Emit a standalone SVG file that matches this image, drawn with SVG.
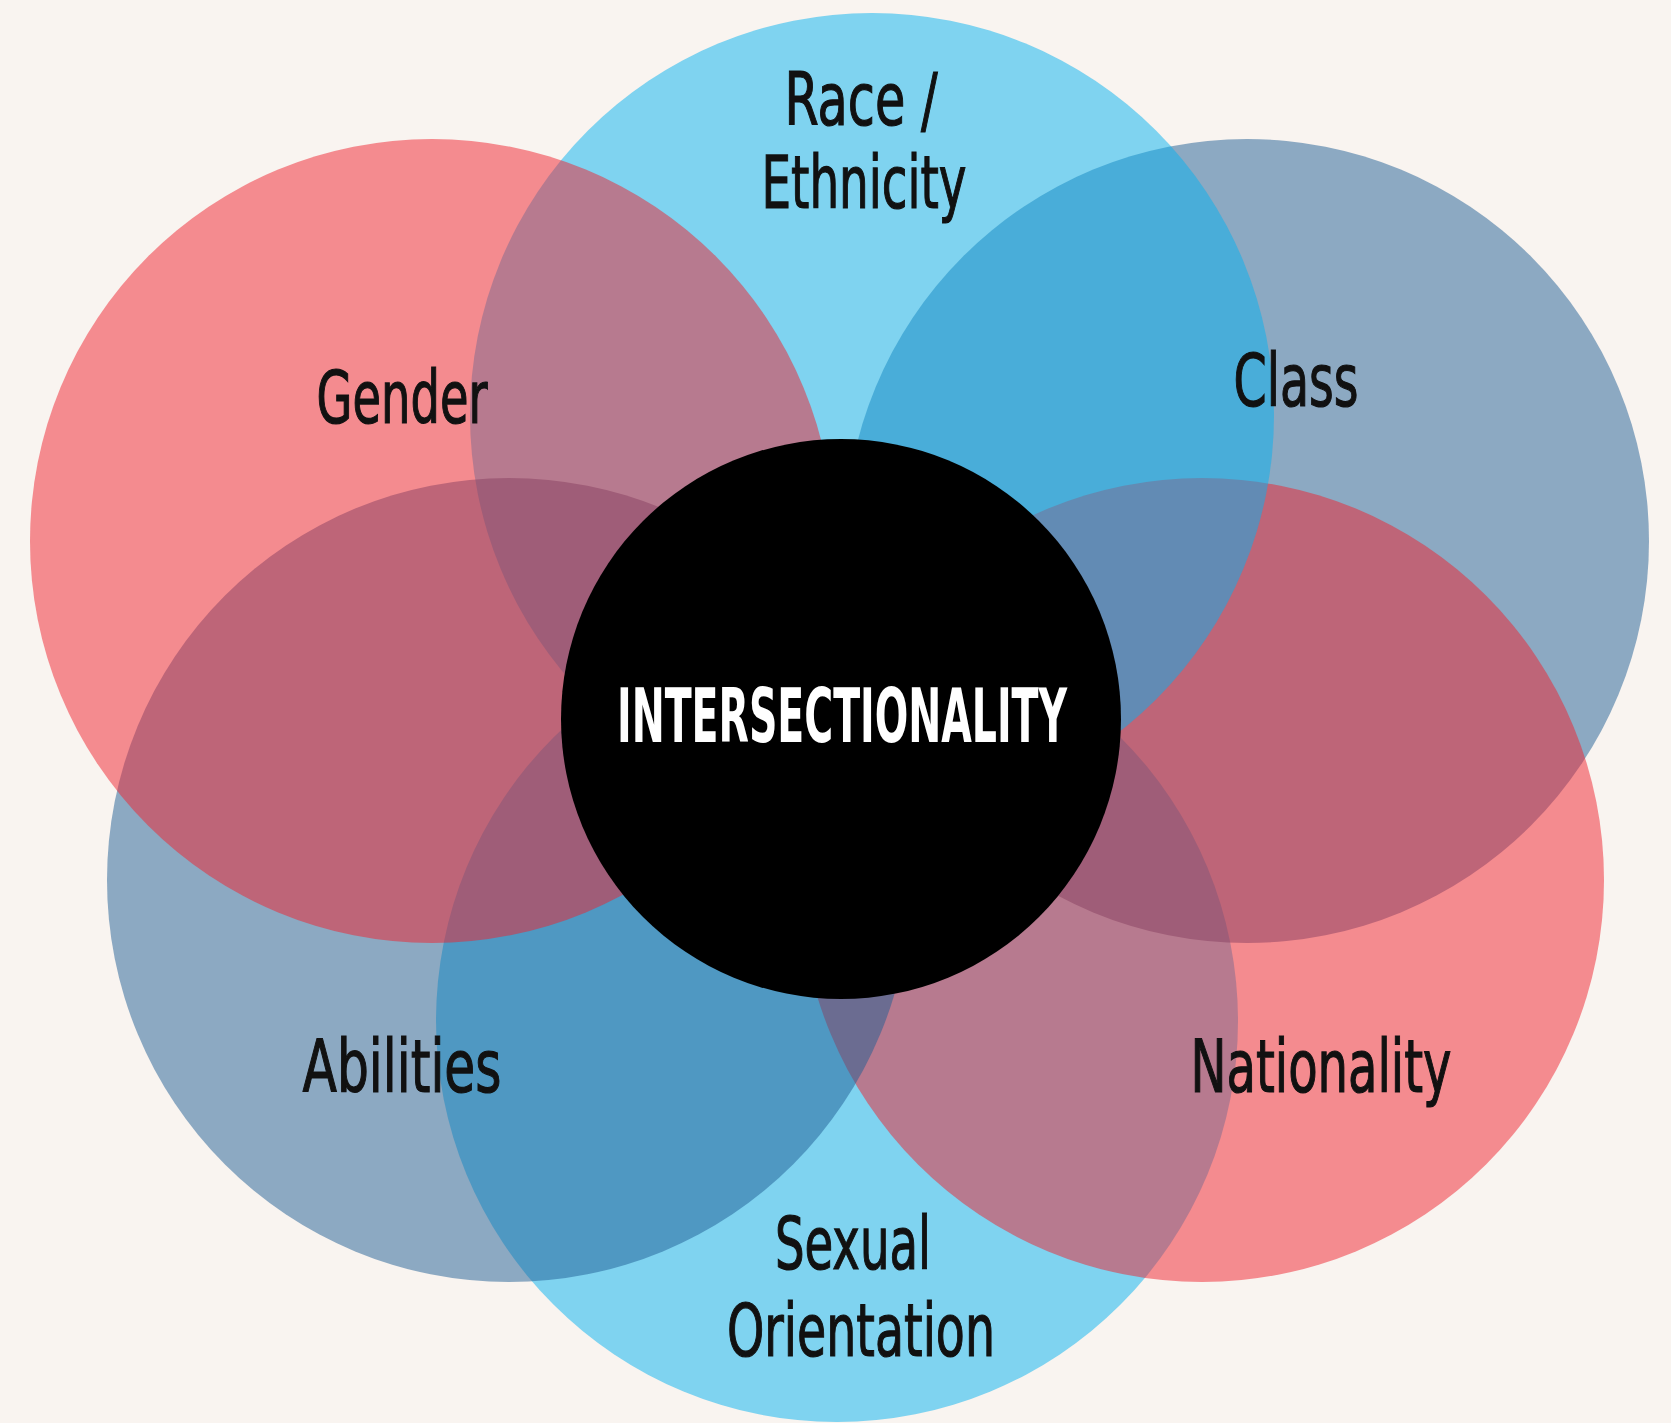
<svg xmlns="http://www.w3.org/2000/svg" width="1671" height="1423" viewBox="0 0 1671 1423">
<style>
.c{fill-opacity:0.5}
.pink{fill:#EF222E}
.blue{fill:#05B2F0}
.steel{fill:#1F5E94}
.lbl{font-family:"Liberation Sans Narrow","DejaVu Sans Condensed","Liberation Sans",sans-serif;font-size:73px;fill:#111;stroke:#111;stroke-width:1.2;text-anchor:middle}
.core{font-family:"Liberation Sans Narrow","DejaVu Sans Condensed","Liberation Sans",sans-serif;font-size:74px;font-weight:bold;fill:#fff;text-anchor:middle}
</style>
<rect x="0" y="0" width="1671" height="1423" fill="#F9F4F0"/>
<g id="sexual-orientation"><circle class="c blue" cx="837" cy="1021" r="401"/></g>
<g id="class"><circle class="c steel" cx="1247" cy="541" r="402"/></g>
<g id="nationality"><circle class="c pink" cx="1202" cy="880" r="402"/></g>
<g id="race-ethnicity"><circle class="c blue" cx="872" cy="415" r="402"/></g>
<g id="abilities"><circle class="c steel" cx="509" cy="880" r="402"/></g>
<g id="gender"><circle class="c pink" cx="432" cy="541" r="402"/></g>
<g id="intersectionality"><circle cx="841" cy="719" r="280" fill="#000"/>
<text class="core" x="842" y="742" textLength="450" lengthAdjust="spacingAndGlyphs">INTERSECTIONALITY</text></g>
<g id="labels">
<text class="lbl" x="861" y="125" textLength="153" lengthAdjust="spacingAndGlyphs">Race /</text>
<text class="lbl" x="864" y="208" textLength="205" lengthAdjust="spacingAndGlyphs">Ethnicity</text>
<text class="lbl" x="402" y="423" textLength="171" lengthAdjust="spacingAndGlyphs">Gender</text>
<text class="lbl" x="1296" y="406" textLength="125" lengthAdjust="spacingAndGlyphs">Class</text>
<text class="lbl" x="402" y="1092" textLength="199" lengthAdjust="spacingAndGlyphs">Abilities</text>
<text class="lbl" x="1321" y="1092" textLength="261" lengthAdjust="spacingAndGlyphs">Nationality</text>
<text class="lbl" x="853" y="1269" textLength="156" lengthAdjust="spacingAndGlyphs">Sexual</text>
<text class="lbl" x="861" y="1356" textLength="268" lengthAdjust="spacingAndGlyphs">Orientation</text>
</g>
<g id="connectors"/>
</svg>
